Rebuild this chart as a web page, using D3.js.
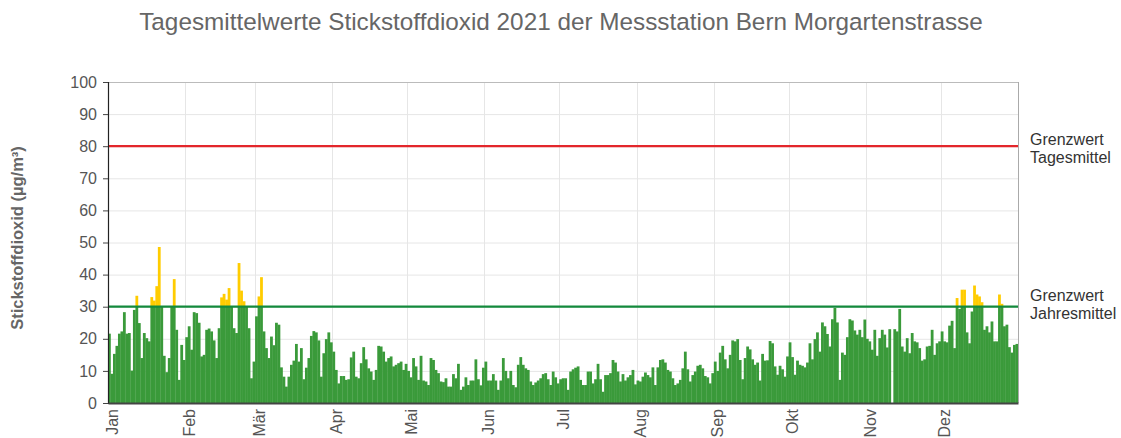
<!DOCTYPE html>
<html>
<head>
<meta charset="utf-8">
<script src="https://cdn.jsdelivr.net/npm/d3@7"></script>
<style>
  html, body { margin: 0; padding: 0; background: #fff; }
  svg { display: block; font-family: "Liberation Sans", Arial, sans-serif; }
</style>
</head>
<body>
<svg id="chart" width="1121" height="438"></svg>
<script>
// ---- data (daily mean NO2, µg/m³, 2021) ----
const jan = [21.6,9.1,15.3,17.8,21.6,22.3,28.3,21.6,21.8,10.1,29,33.4,24.9,14,21.8,20.2,19.2,33,31.9,36.4,48.6,30,14.7,9.6,14,30,38.6,22.8,7.2,18.1,13.4];
const feb = [20.5,23.9,16.6,28.3,28,25,14.5,15,22.8,23.2,22.3,19.5,14,23.3,32.9,34,32.2,35.8,30,23.3,21.8,43.6,35,31.7,30,23.3,7.7,12.9];
const mar = [27,33.2,39.2,22.3,17.1,14,20.7,18,25,24.4,11.1,8.2,5.1,8.2,11.9,13.2,18.4,12.9,17.1,7.4,11,14,20.9,22.4,22,19.5,8.2,15.5,19.9,22,18.9];
const apr = [16,10.3,6.1,8.4,8.4,7.2,7.4,14.2,16,8.2,7.7,12.4,17.4,13.6,10.8,9.8,7.2,10.3,17.8,17.6,16,12.9,14,14.5,11.4,11.9,12.4,12.9,10.3,12.2];
const mai = [10,8,14,11.4,7.2,14.7,7,6.7,5.6,14,13.4,10.3,9.3,6.7,6.5,7.7,5.1,5.1,9,7.7,12.2,4.1,5.1,8,5.6,7,7,13.6,7.4,5.5,11];
const jun = [12.9,7,7,9,7,4.1,7,14,10,7.7,10,5.6,4.9,11.9,14.3,11.9,10.8,10.3,6.7,5.6,6.4,7,7.7,9,9.3,7.4,5.6,9.8,8,6.1];
const jul = [7.4,7.7,7.7,4.1,9.8,10.5,11,11.4,7.2,5.6,5.6,9.8,9.8,6.1,7.4,12.2,7.4,3.5,8.7,8.7,9.3,13.4,12.6,9.8,6.7,9,7,8,8.7,10.3,5.8];
const aug = [7,6.7,8.2,9.5,8.7,8,11.1,5.6,11.1,13.4,13.6,12.6,10.3,9.8,7.7,5.6,6.1,7.2,10.8,16,10.5,6.7,8.7,9.8,11.6,11.9,10.8,8.4,8,6.1,9.3];
const sep = [12.9,10,15.7,17.8,13.6,10.8,15,19.5,19.2,19.9,13.4,7.4,14,17.6,16.7,13.6,11.9,12.6,7,15.3,13.2,13.3,19.3,18.6,11.4,8.8,11.6,10.5,8.2,14.5];
const okt = [18.9,14.3,8.8,13.2,11.9,11.6,11.1,12.6,18.6,13.6,19.9,22,16,25.1,23.9,21.5,17.6,26.1,29.6,25.1,7.2,15.7,15,20.5,26.1,25.7,22.6,21.3,22.8,20.5,26];
const nov = [20,19.2,16.6,22.8,14.7,20.2,22.8,21.3,17.3,23,null,23,22.3,29.3,17.6,16,20.2,15.5,21.8,19.2,18.9,17.1,13.2,13.6,17.6,17.8,22.8,15,18.6,19.2];
const dez = [22.3,19.2,18.9,24.1,25.6,17.1,32.7,29.3,35.3,35.3,22,18.6,28.5,36.6,33.8,33.2,31.4,22.8,23.9,22,25.4,19.2,19.2,33.8,30.9,23.9,24.4,17.4,15.7,18.1,18.4];

const monthLabels = ["Jan","Feb","Mär","Apr","Mai","Jun","Jul","Aug","Sep","Okt","Nov","Dez"];
const yTicks = [0,10,20,30,40,50,60,70,80,90,100];
const limitDaily = 80;
const limitAnnual = 30;

const title = "Tagesmittelwerte Stickstoffdioxid 2021 der Messstation Bern Morgartenstrasse";
const yLabel = "Stickstoffdioxid (µg/m³)";

// ---- build table ----
const values = [].concat(jan, feb, mar, apr, mai, jun, jul, aug, sep, okt, nov, dez);
const data = values.map((v, i) => ({ date: new Date(2021, 0, 1 + i), value: v }));

const svg = d3.select("#chart");
const m = { left: 108, right: 1018, top: 82, bottom: 403 };

const x = d3.scaleTime().domain([new Date(2021,0,1), new Date(2022,0,1)]).range([m.left, m.right]);
const y = d3.scaleLinear().domain([0, 100]).range([m.bottom, m.top]);

// title
svg.append("text").attr("x", 561).attr("y", 30).attr("text-anchor", "middle")
  .attr("font-size", 24.3).attr("fill", "#666").text(title);

// gridlines
const months = d3.timeMonth.range(new Date(2021,0,1), new Date(2022,0,1));
svg.append("g").selectAll("line").data(yTicks).join("line")
  .attr("x1", m.left).attr("x2", m.right)
  .attr("y1", d => y(d) + 0.5).attr("y2", d => y(d) + 0.5)
  .attr("stroke", "#e6e6e6").attr("stroke-width", 1);
svg.append("g").selectAll("line").data(months.slice(1)).join("line")
  .attr("x1", d => Math.round(x(d)) + 0.5).attr("x2", d => Math.round(x(d)) + 0.5)
  .attr("y1", m.top).attr("y2", m.bottom)
  .attr("stroke", "#e6e6e6").attr("stroke-width", 1);

// bars
const dayW = d => x(d3.timeDay.offset(d.date, 1)) - x(d.date);
const valid = data.filter(d => d.value != null);
svg.append("g").selectAll("rect").data(valid).join("rect")
  .attr("x", d => x(d.date)).attr("width", d => dayW(d) + 0.3)
  .attr("y", d => y(Math.min(d.value, limitAnnual)))
  .attr("height", d => y(0) - y(Math.min(d.value, limitAnnual)))
  .attr("fill", "#3a9a3a");
svg.append("g").selectAll("rect").data(valid.filter(d => d.value > limitAnnual)).join("rect")
  .attr("x", d => x(d.date)).attr("width", d => dayW(d) + 0.3)
  .attr("y", d => y(d.value))
  .attr("height", d => y(limitAnnual) - y(d.value))
  .attr("fill", "#ffcc00");

// frame: top and right
svg.append("line").attr("x1", m.left).attr("x2", m.right).attr("y1", m.top + 0.5).attr("y2", m.top + 0.5)
  .attr("stroke", "#bbb");
svg.append("line").attr("x1", m.right + 0.5).attr("x2", m.right + 0.5).attr("y1", m.top).attr("y2", m.bottom)
  .attr("stroke", "#aaa");

// limit lines
svg.append("line").attr("x1", m.left).attr("x2", m.right)
  .attr("y1", y(limitDaily)).attr("y2", y(limitDaily))
  .attr("stroke", "#e3262b").attr("stroke-width", 2.2);
svg.append("line").attr("x1", m.left).attr("x2", m.right)
  .attr("y1", y(limitAnnual)).attr("y2", y(limitAnnual))
  .attr("stroke", "#138a3c").attr("stroke-width", 2.2);

// y axis
const yAxis = svg.append("g").attr("transform", `translate(${m.left},0)`)
  .call(d3.axisLeft(y).tickValues(yTicks).tickSize(5).tickPadding(6));
yAxis.select(".domain").attr("stroke", "#222").attr("stroke-width", 1.2);
yAxis.selectAll(".tick line").attr("stroke", "#444");
yAxis.selectAll("text").attr("font-size", 16).attr("fill", "#555")
  .attr("font-family", "Liberation Sans, Arial, sans-serif");

// x axis
const xAxis = svg.append("g").attr("transform", `translate(0,${m.bottom})`)
  .call(d3.axisBottom(x).tickValues(months).tickSize(0).tickFormat(""));
xAxis.select(".domain").attr("stroke", "#444").attr("stroke-width", 2);

svg.append("g").selectAll("text").data(months).join("text")
  .attr("transform", d => `translate(${x(d) + 4},${m.bottom + 6}) rotate(-90)`)
  .attr("text-anchor", "end").attr("dy", "0.35em")
  .attr("font-size", 16).attr("fill", "#555")
  .text((d, i) => monthLabels[i]);

// y label
svg.append("text").attr("transform", "translate(23,238) rotate(-90)")
  .attr("text-anchor", "middle").attr("font-size", 16.5).attr("font-weight", "bold")
  .attr("fill", "#666").text(yLabel);

// right annotations
const ann = [
  { v: limitDaily, off: -1, lines: ["Grenzwert", "Tagesmittel"] },
  { v: limitAnnual, off: -6, lines: ["Grenzwert", "Jahresmittel"] }
];
ann.forEach(a => {
  const t = svg.append("text").attr("x", 1030).attr("y", y(a.v) + a.off)
    .attr("font-size", 16).attr("fill", "#333");
  a.lines.forEach((l, i) => t.append("tspan").attr("x", 1030).attr("dy", i === 0 ? 0 : 18).text(l));
});
</script>
</body>
</html>
